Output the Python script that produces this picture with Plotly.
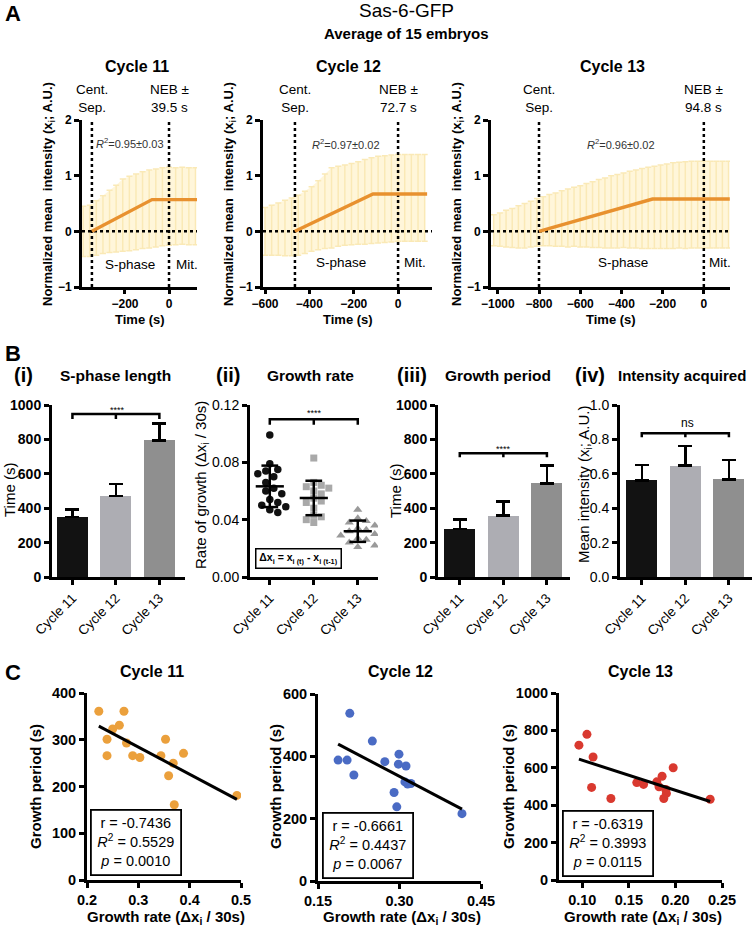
import numpy as np
import plotly.graph_objects as go

W, H = 754, 929
FONT = "Liberation Sans, Arial, Helvetica, sans-serif"

# ======================= DATA =======================
# ---- Panel A: Sas-6-GFP normalised mean intensity (mean ± SD of 15 embryos) ----
a_titles = ["Cycle 11", "Cycle 12", "Cycle 13"]
a_neb = ["39.5 s", "72.7 s", "94.8 s"]
a_r2 = ["0.95±0.03", "0.97±0.02", "0.96±0.02"]

a11_t = [-390, -360, -330, -300, -270, -240, -210, -180, -150, -120, -90, -60, -30, 0, 30, 60, 90, 120]
a11_mean = [0.00, 0.01, 0.06, 0.12, 0.18, 0.23, 0.29, 0.32, 0.35, 0.38, 0.40, 0.42, 0.44, 0.45, 0.45, 0.46, 0.45, 0.45]
a11_sd = [0.45, 0.46, 0.49, 0.52, 0.56, 0.60, 0.65, 0.67, 0.68, 0.69, 0.70, 0.70, 0.70, 0.70, 0.69, 0.69, 0.69, 0.69]
a11_fit_t = [-350, -77, 127]
a11_fit_y = [0.0, 0.57, 0.57]

a12_t = [-600, -570, -540, -510, -480, -450, -420, -390, -360, -330, -300, -270, -240, -210, -180,
         -150, -120, -90, -60, -30, 0, 30, 60, 90, 120]
a12_mean = [0.00, 0.02, 0.04, 0.06, 0.08, 0.11, 0.16, 0.22, 0.29, 0.36, 0.42, 0.45, 0.47, 0.49, 0.51,
            0.53, 0.55, 0.57, 0.58, 0.59, 0.60, 0.60, 0.60, 0.60, 0.60]
a12_sd = [0.43, 0.45, 0.47, 0.50, 0.52, 0.54, 0.56, 0.58, 0.62, 0.67, 0.72, 0.72, 0.72, 0.73, 0.74,
          0.76, 0.77, 0.78, 0.78, 0.78, 0.78, 0.78, 0.78, 0.78, 0.78]
a12_fit_t = [-465, -113, 131]
a12_fit_y = [0.0, 0.67, 0.67]

a13_t = [-1020, -990, -960, -930, -900, -870, -840, -810, -780, -750, -720, -690, -660, -630, -600,
         -570, -540, -510, -480, -450, -420, -390, -360, -330, -300, -270, -240, -210, -180, -150,
         -120, -90, -60, -30, 0, 30, 60, 90, 120]
a13_mean = [0.02, 0.03, 0.05, 0.06, 0.08, 0.10, 0.13, 0.16, 0.18, 0.20, 0.21, 0.23, 0.24, 0.26, 0.27,
            0.29, 0.30, 0.32, 0.33, 0.35, 0.36, 0.38, 0.39, 0.40, 0.41, 0.42, 0.43, 0.44, 0.45, 0.46,
            0.47, 0.47, 0.48, 0.48, 0.48, 0.48, 0.48, 0.48, 0.48]
a13_sd = [0.28, 0.30, 0.33, 0.35, 0.38, 0.40, 0.41, 0.43, 0.44, 0.46, 0.48, 0.50, 0.52, 0.53, 0.55,
          0.57, 0.59, 0.61, 0.63, 0.65, 0.66, 0.67, 0.69, 0.70, 0.72, 0.73, 0.74, 0.75, 0.76, 0.77,
          0.77, 0.78, 0.78, 0.78, 0.78, 0.78, 0.78, 0.78, 0.78]
a13_fit_t = [-800, -249, 126]
a13_fit_y = [0.0, 0.58, 0.58]

a_xticks = [[-200, 0], [-600, -400, -200, 0], [-1000, -800, -600, -400, -200, 0]]
a_yticks = [-1, 0, 1, 2]

# ---- Panel B ----
b_cats = ["Cycle 11", "Cycle 12", "Cycle 13"]
b_sphase_mean = [348, 470, 795]
b_sphase_sd = [44, 72, 97]
b_rate_c11 = [0.099, 0.079, 0.075, 0.074, 0.072, 0.070, 0.066, 0.062, 0.060, 0.058, 0.054, 0.052,
              0.050, 0.049, 0.047, 0.045]
b_rate_c12 = [0.083, 0.066, 0.064, 0.063, 0.062, 0.060, 0.058, 0.055, 0.053, 0.052, 0.048, 0.043,
              0.042, 0.040, 0.038]
b_rate_c13 = [0.047, 0.041, 0.039, 0.038, 0.036, 0.034, 0.033, 0.032, 0.030, 0.029, 0.027, 0.026,
              0.024, 0.022, 0.021]
b_period_mean = [280, 357, 544]
b_period_sd = [53, 83, 105]
b_int_mean = [0.562, 0.647, 0.568]
b_int_sd = [0.089, 0.115, 0.112]
b_sig = ["****", "****", "****", "ns"]

# ---- Panel C ----
c11_rate = [0.223, 0.272, 0.263, 0.250, 0.239, 0.239, 0.277, 0.289, 0.303, 0.344, 0.353, 0.388,
            0.368, 0.359, 0.370, 0.492]
c11_period = [361, 361, 331, 323, 301, 266, 293, 266, 262, 266, 301, 271, 250, 223, 161, 181]
c12_rate = [0.2085, 0.250, 0.187, 0.2036, 0.216, 0.273, 0.299, 0.298, 0.312, 0.290, 0.295, 0.310,
            0.315, 0.321, 0.415]
c12_period = [538, 449, 388, 388, 340, 383, 407, 375, 369, 284, 238, 318, 311, 313, 216]
c13_rate = [0.0964, 0.105, 0.1116, 0.110, 0.1307, 0.1585, 0.1658, 0.180, 0.1857, 0.1824, 0.1896,
            0.1903, 0.1875, 0.1976, 0.2373]
c13_period = [721, 779, 658, 495, 436, 521, 511, 525, 555, 498, 484, 463, 436, 600, 432]
c_stats = [("-0.7436", "0.5529", "0.0010"), ("-0.6661", "0.4437", "0.0067"), ("-0.6319", "0.3993", "0.0115")]

# ======================= STYLE =======================
A_COL = '#E8912F'
BAND_FILL = 'rgba(255,245,212,0.85)'
BAND_ERR = '#FAE9B6'
BAR_COLS = ['#121212', '#ADADB3', '#8F8F8F']
SC_COLS = ['#EBA03C', '#4A6BC4', '#D9392F']
EPS = 1e-6

fig = go.Figure()
layout_axes = {}
annotations = []
shapes = []


def refs(i):
    return ('x' if i == 1 else f'x{i}', 'y' if i == 1 else f'y{i}')


def base_axis(size=12, bold=True):
    return dict(showline=True, linecolor='black', linewidth=3, ticks='outside', ticklen=5,
                tickwidth=2.5, tickcolor='black', showgrid=False, zeroline=False,
                layer='above traces', automargin=False,
                tickfont=dict(family=FONT, size=size, color='black',
                              weight='bold' if bold else 'normal'))


def set_axes(i, xdom, ydom, xkw, ykw, xfont=(12, True), yfont=(12, True)):
    xn = 'xaxis' if i == 1 else f'xaxis{i}'
    yn = 'yaxis' if i == 1 else f'yaxis{i}'
    xr, yr = refs(i)
    xa = base_axis(*xfont)
    xa.update(xkw)
    xa.update(domain=[xdom[0] / W, xdom[1] / W], anchor=yr)
    ya = base_axis(*yfont)
    ya.update(ykw)
    ya.update(domain=[1 - ydom[1] / H, 1 - ydom[0] / H], anchor=xr)
    layout_axes[xn] = xa
    layout_axes[yn] = ya


def ann(text, x, y, size=12, bold=False, color='black', xanchor='center', yanchor='middle',
        angle=0, **kw):
    annotations.append(dict(text=text, x=x / W, y=1 - y / H, xref='paper', yref='paper',
                            showarrow=False, xanchor=xanchor, yanchor=yanchor, textangle=angle,
                            font=dict(family=FONT, size=size, color=color,
                                      weight='bold' if bold else 'normal'), **kw))


# ======================= PANEL A =======================
ann("A", 3, 14, size=22, bold=True, xanchor='left')
ann("Sas-6-GFP", 406, 11, size=19)
ann("Average of 15 embryos", 406, 34, size=15, bold=True)

A_sets = [
    dict(t=a11_t, m=a11_mean, s=a11_sd, ft=a11_fit_t, fy=a11_fit_y, rng=[-395, 127], dom=[82, 197]),
    dict(t=a12_t, m=a12_mean, s=a12_sd, ft=a12_fit_t, fy=a12_fit_y, rng=[-609, 153], dom=[263, 432]),
    dict(t=a13_t, m=a13_mean, s=a13_sd, ft=a13_fit_t, fy=a13_fit_y, rng=[-1033, 127], dom=[491, 730]),
]
A_YDOM = [120, 287]
a_r2_pos = [(130, 143), (346, 144), (621, 144)]
a_sph_pos = [(130, 264), (341, 262), (623, 262)]
a_mit_pos = [(187, 264), (415, 262), (720, 262)]
a_title_x = [137, 348, 612]

for k, S in enumerate(A_sets):
    i = k + 1
    xr, yr = refs(i)
    t = np.array(S['t'], float)
    m = np.array(S['m'], float)
    s = np.array(S['s'], float)
    up, lo = m + s, m - s
    fig.add_trace(go.Scatter(x=np.concatenate([t, t[::-1]]), y=np.concatenate([up, lo[::-1]]),
                             fill='toself', fillcolor=BAND_FILL, line=dict(width=0), mode='lines',
                             hoverinfo='skip', xaxis=xr, yaxis=yr))
    fig.add_trace(go.Scatter(x=t, y=m, mode='markers', marker=dict(size=1, color='rgba(0,0,0,0)'),
                             error_y=dict(type='data', array=s, symmetric=True, color=BAND_ERR,
                                          thickness=1.5, width=3),
                             xaxis=xr, yaxis=yr, hoverinfo='skip'))
    cent = S['ft'][0]
    fig.add_trace(go.Scatter(x=[cent, cent, None, 0, 0], y=[-1, 2, None, -1, 2], mode='lines',
                             line=dict(color='black', width=2.5, dash='dot'), xaxis=xr, yaxis=yr))
    fig.add_trace(go.Scatter(x=S['rng'], y=[0, 0], mode='lines',
                             line=dict(color='black', width=2.5, dash='dot'), xaxis=xr, yaxis=yr))
    fig.add_trace(go.Scatter(x=S['ft'], y=S['fy'], mode='lines', line=dict(color=A_COL, width=3.4),
                             xaxis=xr, yaxis=yr))
    set_axes(i, S['dom'], A_YDOM,
             dict(range=S['rng'], tickvals=a_xticks[k], ticklen=4),
             dict(range=[-1 - EPS, 2 + EPS], tickvals=a_yticks))

    def a_px(v, S=S):
        return S['dom'][0] + (v - S['rng'][0]) / (S['rng'][1] - S['rng'][0]) * (S['dom'][1] - S['dom'][0])

    ann(a_titles[k], a_title_x[k], 67, size=16, bold=True)
    ann("Cent.<br>Sep.", a_px(cent), 98, size=13.5)
    ann("NEB ±<br>" + a_neb[k], a_px(0), 98, size=13.5)
    ann("<i>R</i><sup>2</sup>=" + a_r2[k], *a_r2_pos[k], size=11, color='#333333')
    ann("S-phase", *a_sph_pos[k], size=13.5)
    ann("Mit.", *a_mit_pos[k], size=13.5)
    ann("Normalized mean  intensity (x<sub>i</sub>; A.U.)", S['dom'][0] - 34, 194, size=13,
        bold=True, angle=-90)
    ann("Time (s)", (S['dom'][0] + S['dom'][1]) / 2, 319, size=13, bold=True)

# ======================= PANEL B =======================
ann("B", 3, 353, size=22, bold=True, xanchor='left')
B_YDOM = [405, 577]
cat_x = [0, 1, 2]


def bracket(i, y_top, y_tail):
    xr, yr = refs(i)
    path = (f"M 0,{y_tail} L 0,{y_top} L 2,{y_top} L 2,{y_tail} "
            f"M 1,{y_top} L 1,{y_tail}")
    shapes.append(dict(type='path', path=path, xref=xr, yref=yr,
                       line=dict(color='black', width=2.5)))


def bar_panel(i, means, sds, dom, xrng, yrng, ytick, fmt, bold_ticks):
    xr, yr = refs(i)
    fig.add_trace(go.Bar(x=cat_x, y=means, width=0.71, marker=dict(color=BAR_COLS, line=dict(width=0)),
                         error_y=dict(type='data', array=sds, arrayminus=[0] * len(sds),
                                      symmetric=False, color='black', thickness=2.5, width=7),
                         xaxis=xr, yaxis=yr))
    set_axes(i, dom, B_YDOM,
             dict(range=xrng, tickvals=cat_x, ticktext=b_cats, tickangle=-45),
             dict(range=[yrng[0], yrng[1] * (1 + EPS)], tickvals=ytick, tickformat=fmt),
             xfont=(13.5, False), yfont=(14, bold_ticks))


# (i) S-phase length
bar_panel(4, b_sphase_mean, b_sphase_sd, [52, 185], [-0.47, 2.59], [0, 1000],
          [0, 200, 400, 600, 800, 1000], 'd', True)
bracket(4, 947, 918)
ann(b_sig[0], 117, 410, size=9)
ann("(i)", 23, 375, size=20, bold=True)
ann("S-phase length", 115, 375, size=15.5, bold=True)
ann("Time (s)", 9, 490, size=15, angle=-90)

# (ii) Growth rate – scatter dot plot
i = 5
xr, yr = refs(i)
set_axes(i, [250, 378], B_YDOM,
         dict(range=[-0.45, 2.46], tickvals=cat_x, ticktext=b_cats, tickangle=-45),
         dict(range=[0, 0.12 * (1 + EPS)], tickvals=[0, 0.04, 0.08, 0.12], tickformat='.2f'),
         xfont=(13.5, False), yfont=(14, False))

XS = 128 / 2.91          # px per category unit
YS = 172 / 0.12          # px per rate unit


def swarm(vals, d_px):
    vals = np.asarray(vals, float)
    order = np.argsort(vals)[::-1]
    placed = []
    offs = np.zeros(len(vals))
    cands = [0.0]
    for j in range(1, 30):
        cands += [j * d_px * 0.5, -j * d_px * 0.5]
    for idx in order:
        yp = vals[idx] * YS
        for c in cands:
            if all((c - px) ** 2 + (yp - py) ** 2 >= (d_px * 0.9) ** 2 for px, py in placed):
                break
        placed.append((c, yp))
        offs[idx] = c / XS
    return offs


rate_sets = [b_rate_c11, b_rate_c12, b_rate_c13]
sym = ['circle', 'square', 'triangle-up']
msz = [7.5, 7, 8]
mcol = ['#111111', '#A9A9A9', '#9A9A9A']
for ci, vals in enumerate(rate_sets):
    offs = swarm(vals, msz[ci] + 0.5)
    fig.add_trace(go.Scatter(x=ci + offs, y=vals, mode='markers',
                             marker=dict(symbol=sym[ci], size=msz[ci], color=mcol[ci], line=dict(width=0)),
                             xaxis=xr, yaxis=yr))
for ci, vals in enumerate(rate_sets):
    mu = float(np.mean(vals))
    sd = float(np.std(vals, ddof=1))
    xs = [ci - 0.32, ci + 0.32, None, ci, ci, None, ci - 0.19, ci + 0.19, None, ci - 0.19, ci + 0.19]
    ys = [mu, mu, None, mu - sd, mu + sd, None, mu + sd, mu + sd, None, mu - sd, mu - sd]
    fig.add_trace(go.Scatter(x=xs, y=ys, mode='lines', line=dict(color='black', width=2.5),
                             xaxis=xr, yaxis=yr))
bracket(5, 0.110, 0.1062)
ann(b_sig[1], 314, 413, size=9)
ann("(ii)", 228, 375, size=20, bold=True)
ann("Growth rate", 310, 375, size=15.5, bold=True)
ann("Rate of growth (Δx<sub>i</sub> / 30s)", 201, 485, size=15, angle=-90)
ann("Δx<sub>i</sub> = x<sub>i (t)</sub> - x<sub>i (t-1)</sub>", 298.5, 558, size=10.5, bold=True,
    bordercolor='black', borderwidth=1.5, borderpad=2, bgcolor='white', width=80, height=14)

# (iii) Growth period
bar_panel(6, b_period_mean, b_period_sd, [438, 570], [-0.5, 2.53], [0, 1000],
          [0, 200, 400, 600, 800, 1000], 'd', True)
bracket(6, 719, 696)
ann(b_sig[2], 503, 449, size=9)
ann("(iii)", 412, 375, size=20, bold=True)
ann("Growth period", 498, 375, size=15.5, bold=True)
ann("Time (s)", 395, 491, size=15, angle=-90)

# (iv) Intensity acquired
bar_panel(7, b_int_mean, b_int_sd, [620, 752], [-0.5, 2.53], [0, 1.0],
          [0, 0.2, 0.4, 0.6, 0.8, 1.0], '.1f', False)
bracket(7, 0.836, 0.812)
ann(b_sig[3], 687, 423, size=12)
ann("(iv)", 590, 375, size=20, bold=True)
ann("Intensity acquired", 682, 375, size=15, bold=True)
ann("Mean intensity (x<sub>i</sub>; A.U.)", 584, 485, size=15, angle=-90)

# ======================= PANEL C =======================
ann("C", 3, 672, size=22, bold=True, xanchor='left')
C_sets = [
    dict(x=c11_rate, y=c11_period, dom=[87, 241], ydom=[693, 880], xr=[0.2, 0.5], yr=[0, 400],
         xt=[0.2, 0.3, 0.4, 0.5], xf='.1f', yt=[0, 100, 200, 300, 400]),
    dict(x=c12_rate, y=c12_period, dom=[318, 481], ydom=[694, 881], xr=[0.15, 0.45], yr=[0, 600],
         xt=[0.15, 0.30, 0.45], xf='.2f', yt=[0, 200, 400, 600]),
    dict(x=c13_rate, y=c13_period, dom=[559, 722], ydom=[693, 880], xr=[0.075, 0.25], yr=[0, 1000],
         xt=[0.10, 0.15, 0.20, 0.25], xf='.2f', yt=[0, 200, 400, 600, 800, 1000]),
]
c_title_x = [152, 400, 640]
c_ytitle_x = [35, 275, 508]
c_xtitle_x = [166, 402, 643]
c_box = [(135.5, 842.5), (367.5, 845), (608, 843.5)]

for k, S in enumerate(C_sets):
    i = 8 + k
    xr, yr = refs(i)
    xv = np.array(S['x'], float)
    yv = np.array(S['y'], float)
    fig.add_trace(go.Scatter(x=xv, y=yv, mode='markers',
                             marker=dict(size=9, color=SC_COLS[k], line=dict(width=0)),
                             xaxis=xr, yaxis=yr))
    slope, icpt = np.polyfit(xv, yv, 1)
    lx = np.array([xv.min(), xv.max()])
    fig.add_trace(go.Scatter(x=lx, y=slope * lx + icpt, mode='lines',
                             line=dict(color='black', width=3), xaxis=xr, yaxis=yr))
    span = S['xr'][1] - S['xr'][0]
    set_axes(i, S['dom'], S['ydom'],
             dict(range=[S['xr'][0] - EPS * span, S['xr'][1] + EPS * span], tickvals=S['xt'],
                  tickformat=S['xf']),
             dict(range=[S['yr'][0], S['yr'][1] * (1 + EPS)], tickvals=S['yt']),
             xfont=(14.5, True), yfont=(14.5, True))
    ann(a_titles[k], c_title_x[k], 671, size=16, bold=True)
    ann("Growth period (s)", c_ytitle_x[k], 787, size=15, bold=True, angle=-90)
    ann("Growth rate (Δx<sub>i</sub> / 30s)", c_xtitle_x[k], 917, size=15, bold=True)
    r, r2, p = c_stats[k]
    ann(f"r = {r}<br><i>R</i><sup>2</sup> = {r2}<br><i>p</i> = {p}", *c_box[k], size=14.5,
        bordercolor='black', borderwidth=1.8, borderpad=3, bgcolor='white', width=82, height=57)

fig.update_layout(
    width=W, height=H, autosize=False,
    margin=dict(l=0, r=0, t=0, b=0, pad=0, autoexpand=False),
    paper_bgcolor='white', plot_bgcolor='white', showlegend=False,
    font=dict(family=FONT, color='black'),
    annotations=annotations, shapes=shapes, bargap=0,
    **layout_axes,
)
fig.write_html("out.html", config=dict(responsive=False, displayModeBar=False),
               post_script="document.body.style.margin='0';document.body.style.overflow='hidden';")
